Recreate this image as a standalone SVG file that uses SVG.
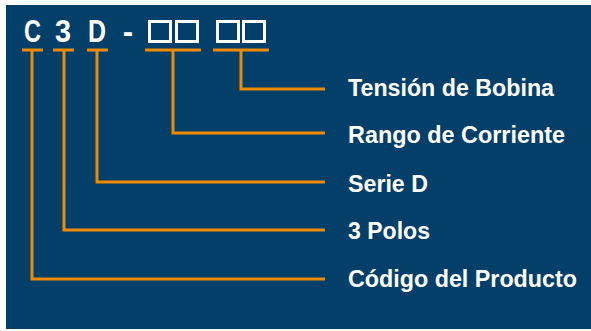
<svg xmlns="http://www.w3.org/2000/svg" width="591" height="331" viewBox="0 0 591 331">
<style>
.bg{fill:#033f68}
.ln{fill:none;stroke:#ef8a00;stroke-width:3;stroke-linecap:butt;stroke-linejoin:miter}
.hd{font-family:"Liberation Sans",Arial,sans-serif;font-weight:bold;font-size:31px;fill:#ffffff;text-anchor:middle}
.bx{fill:none;stroke:#ffffff;stroke-width:3}
.lb{font-family:"Liberation Sans",Arial,sans-serif;font-weight:bold;font-size:24px;fill:#ffffff}
</style>
<rect class="bg" x="6" y="5" width="585" height="324"/>
<g id="code">
<text class="hd" x="32.5" y="42" textLength="17" lengthAdjust="spacingAndGlyphs">C</text>
<text class="hd" x="63" y="42" textLength="16" lengthAdjust="spacingAndGlyphs">3</text>
<text class="hd" x="97" y="42" textLength="18" lengthAdjust="spacingAndGlyphs">D</text>
<text class="hd" x="128" y="42">-</text>
<rect class="bx" x="149.5" y="21.5" width="21" height="20"/>
<rect class="bx" x="176.5" y="21.5" width="21" height="20"/>
<rect class="bx" x="217.5" y="21.5" width="21" height="20"/>
<rect class="bx" x="243.5" y="21.5" width="21" height="20"/>
</g>
<g id="connectors">
<path class="ln" d="M22 50H43M53 50H74M87 50H108M145 50H201M213 50H269"/>
<path class="ln" d="M32 50V279H325"/>
<path class="ln" d="M64 50V230H325"/>
<path class="ln" d="M97 50V182H325"/>
<path class="ln" d="M173 50V133H325"/>
<path class="ln" d="M241 50V89H325"/>
</g>
<g id="n-tension"><text class="lb" x="348" y="96" textLength="206" lengthAdjust="spacingAndGlyphs">Tensión de Bobina</text></g>
<g id="n-rango"><text class="lb" x="348" y="143" textLength="217" lengthAdjust="spacingAndGlyphs">Rango de Corriente</text></g>
<g id="n-serie"><text class="lb" x="348" y="192" textLength="80" lengthAdjust="spacingAndGlyphs">Serie D</text></g>
<g id="n-polos"><text class="lb" x="348" y="239" textLength="82" lengthAdjust="spacingAndGlyphs">3 Polos</text></g>
<g id="n-codigo"><text class="lb" x="348" y="287" textLength="229" lengthAdjust="spacingAndGlyphs">Código del Producto</text></g>
</svg>
